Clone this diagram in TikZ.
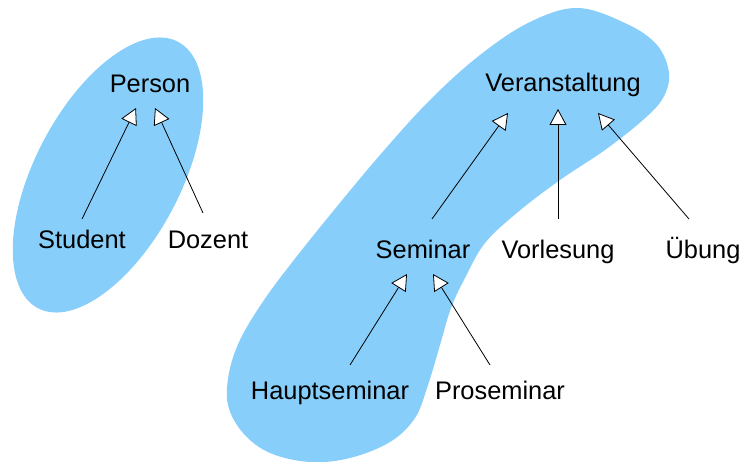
\documentclass[tikz,border=0pt]{standalone}
\usepackage{fontspec}
\setmainfont{Liberation Sans}
\usetikzlibrary{arrows.meta,calc}
\definecolor{blobblue}{RGB}{135,206,250}
\tikzset{
  lbl/.style={anchor=base,inner sep=0pt,font=\fontsize{25.4}{30}\selectfont},
  gen/.style={line width=0.8pt,-{Triangle[length=16pt,width=17pt,fill=white]}},
  blob/.style={fill=blobblue,draw=none}
}
\begin{document}
\begin{tikzpicture}[x=1pt,y=-1pt]
\useasboundingbox (0,0) rectangle (745,462);
% groups
\fill[blob] (108,175) ellipse [x radius=73pt, y radius=150.5pt, rotate=-27.7];
\fill[blob] plot[smooth cycle, tension=0.6] coordinates {
 (578,8) (627,24) (657,45) (669,73) (663,98) (643,120) (605,150) (560,180)
 (518,212) (485,243) (465,278) (451,308) (440,345) (428,385) (415,418)
 (390,442) (350,458) (310,462) (270,453) (243,433) (228,405) (229,373)
 (240,340) (262,303) (290,265) (330,215) (380,155) (430,100) (480,55) (530,22)};
% nodes
\node[lbl] (person) at (150,93) {Person};
\node[lbl] (student) at (82,249) {Student};
\node[lbl] (dozent) at (208,249) {Dozent};
\node[lbl] (veran) at (563,92) {Veranstaltung};
\node[lbl] (seminar) at (423,259) {Seminar};
\node[lbl] (vorl) at (558,259) {Vorlesung};
\node[lbl] (uebung) at (703,259) {Übung};
\node[lbl] (haupt) at (330,400) {Hauptseminar};
\node[lbl] (pro) at (500,400) {Proseminar};
% connectors
\draw[gen] ($(student.base)+(0,-30)$) -- ($(person.base)+(-14,15)$);
\draw[gen] ($(dozent.base)+(-5,-36)$) -- ($(person.base)+(5,15)$);
\draw[gen] ($(seminar.base)+(9,-40)$) -- ($(veran.base)+(-55,21)$);
\draw[gen] ($(vorl.base)+(0,-40)$) -- ($(veran.base)+(-5,17)$);
\draw[gen] ($(uebung.base)+(-14,-40)$) -- ($(veran.base)+(35,21)$);
\draw[gen] ($(haupt.base)+(20,-35)$) -- ($(seminar.base)+(-16,15)$);
\draw[gen] ($(pro.base)+(-10,-35)$) -- ($(seminar.base)+(10,15)$);
\end{tikzpicture}
\end{document}
